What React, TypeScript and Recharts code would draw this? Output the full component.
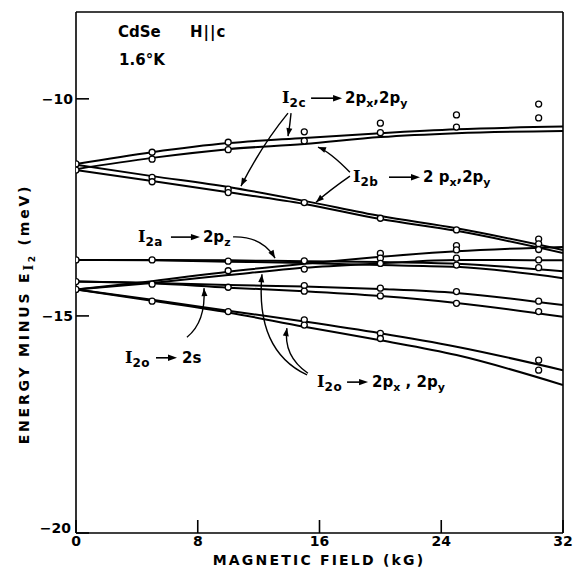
import React from "react";
import { ComposedChart, Line, Scatter, XAxis, YAxis } from "recharts";

// page / plot geometry (plot box matches the reference frame)
const W = 573;
const H = 571;
const PLOT = { left: 76, right: 563, top: 12, bottom: 533 };
const X_DOMAIN: [number, number] = [0, 32];
const Y_DOMAIN: [number, number] = [-20, -8];
const FONT = "'DejaVu Sans', sans-serif";
const SERIF = "'DejaVu Serif', serif";

const xTicks = [0, 8, 16, 24, 32];
const yTicks = [-20, -15, -10];

// fitted curves, read at these fields (kG)
const fieldGrid = [0, 5, 10, 15, 20, 25, 32];
const i2cUp = [-11.5, -11.23, -11.02, -10.9, -10.79, -10.7, -10.64];
const i2bUp = [-11.62, -11.36, -11.16, -11.04, -10.88, -10.79, -10.74];
const i2cDown = [-11.52, -11.78, -12.03, -12.35, -12.7, -12.98, -13.48];
const i2bDown = [-11.64, -11.89, -12.15, -12.42, -12.77, -13.04, -13.55];
const i2oPxUpper = [-14.39, -14.2, -13.98, -13.8, -13.64, -13.51, -13.41];
const i2oPxLower = [-14.39, -14.24, -14.06, -13.89, -13.79, -13.71, -13.72];
const i2aUpper = [-13.71, -13.71, -13.72, -13.74, -13.76, -13.8, -13.97];
const i2aLower = [-13.71, -13.72, -13.75, -13.78, -13.83, -13.87, -14.13];
const i2o2sUpper = [-14.21, -14.24, -14.29, -14.32, -14.38, -14.47, -14.75];
const i2o2sLower = [-14.21, -14.25, -14.35, -14.43, -14.54, -14.7, -15.02];
const i2oPxDown1 = [-14.39, -14.63, -14.88, -15.13, -15.4, -15.71, -16.25];
const i2oPxDown2 = [-14.39, -14.65, -14.92, -15.25, -15.56, -15.9, -16.59];

const curves = [
  i2cUp, i2bUp, i2cDown, i2bDown,
  i2oPxUpper, i2oPxLower, i2aUpper, i2aLower,
  i2o2sUpper, i2o2sLower, i2oPxDown1, i2oPxDown2,
];

// measured points (open circles)
const pointFields = [0, 5, 10, 15, 20, 25, 30.4];
const pts0 = [-11.5, -11.64, -13.71, -14.21, -14.39];
const pts5 = [-11.23, -11.39, -11.81, -11.91, -13.71, -14.27, -14.66];
const pts10 = [-11.0, -11.17, -12.08, -12.16, -13.74, -13.96, -14.34, -14.9];
const pts15 = [-10.76, -10.97, -12.39, -13.73, -13.92, -14.3, -14.43, -15.09, -15.21];
const pts20 = [-10.56, -10.78, -12.75, -13.56, -13.67, -13.79, -14.36, -14.54, -15.4, -15.52];
const pts25 = [-10.37, -10.65, -13.02, -13.38, -13.48, -13.67, -13.83, -14.44, -14.71];
const pts30 = [-10.12, -10.44, -13.23, -13.34, -13.47, -13.71, -13.89, -14.66, -14.9, -16.02, -16.25];
const pointEnergies = [pts0, pts5, pts10, pts15, pts20, pts25, pts30];

const toRows = (ys: number[]) => fieldGrid.map((x, i) => ({ x, y: ys[i] }));
const points = pointFields.flatMap((x, i) => pointEnergies[i].map((y) => ({ x, y })));

// data -> pixel, same box as the chart
const sx = (x: number) =>
  PLOT.left + ((x - X_DOMAIN[0]) / (X_DOMAIN[1] - X_DOMAIN[0])) * (PLOT.right - PLOT.left);
const sy = (y: number) =>
  PLOT.top + ((Y_DOMAIN[1] - y) / (Y_DOMAIN[1] - Y_DOMAIN[0])) * (PLOT.bottom - PLOT.top);

// transition labels: anchor in data coords, inline arrow / text offsets in px
type Part = [string, boolean];
const labels: { at: [number, number]; sub: string; arrow: [number, number]; rest: number; parts: Part[] }[] = [
  { at: [13.54, -10.1], sub: "2c", arrow: [29, 60], rest: 63, parts: [["2p", false], ["x", true], [",2p", false], ["y", true]] },
  { at: [18.2, -11.92], sub: "2b", arrow: [36, 67], rest: 70, parts: [["2 p", false], ["x", true], [",2p", false], ["y", true]] },
  { at: [4.07, -13.3], sub: "2a", arrow: [33, 62], rest: 65, parts: [["2p", false], ["z", true]] },
  { at: [3.22, -16.08], sub: "2o", arrow: [31, 52], rest: 57, parts: [["2s", false]] },
  { at: [15.84, -16.64], sub: "2o", arrow: [30, 51], rest: 55, parts: [["2p", false], ["x", true], [" , 2p", false], ["y", true]] },
];

// pointer arrows (from, control, to) in data coords
const pointers: { from: [number, number]; ctrl: [number, number]; to: [number, number] }[] = [
  { from: [14.13, -10.33], ctrl: [14.06, -10.6], to: [13.93, -10.86] },
  { from: [13.93, -10.33], ctrl: [12.22, -11.06], to: [10.84, -12.01] },
  { from: [18.0, -11.69], ctrl: [16.69, -11.22], to: [15.9, -11.11] },
  { from: [18.0, -11.78], ctrl: [16.69, -12.1], to: [15.77, -12.38] },
  { from: [10.32, -13.18], ctrl: [12.22, -13.16], to: [13.08, -13.67] },
  { from: [7.29, -15.49], ctrl: [8.54, -15.14], to: [8.41, -14.36] },
  { from: [15.18, -16.36], ctrl: [11.76, -15.79], to: [12.22, -14.04] },
  { from: [15.24, -16.32], ctrl: [13.6, -15.92], to: [13.86, -15.28] },
];

function head(x: number, y: number, ang: number, len = 8, half = 3) {
  const bx = x - len * Math.cos(ang);
  const by = y - len * Math.sin(ang);
  const s = Math.sin(ang);
  const c = Math.cos(ang);
  return `${x},${y} ${bx + half * s},${by - half * c} ${bx - half * s},${by + half * c}`;
}

function Pointer({ p }: { p: (typeof pointers)[number] }) {
  const x0 = sx(p.from[0]), y0 = sy(p.from[1]);
  const cx = sx(p.ctrl[0]), cy = sy(p.ctrl[1]);
  const x1 = sx(p.to[0]), y1 = sy(p.to[1]);
  const ang = Math.atan2(y1 - cy, x1 - cx);
  return (
    <g>
      <path d={`M${x0},${y0} Q${cx},${cy} ${x1},${y1}`} fill="none" stroke="#000" strokeWidth={1.4} />
      <polygon points={head(x1, y1, ang)} fill="#000" />
    </g>
  );
}

function TransitionLabel({ l }: { l: (typeof labels)[number] }) {
  const x = sx(l.at[0]);
  const y = sy(l.at[1]);
  let prevSub = false;
  return (
    <g fill="#000" fontFamily={FONT} fontWeight="bold">
      <text x={x} y={y} fontSize={16}>
        <tspan fontFamily={SERIF}>I</tspan>
        <tspan fontSize={12} dy={4} letterSpacing={0.5}>{l.sub}</tspan>
      </text>
      <line x1={x + l.arrow[0]} x2={x + l.arrow[1] - 6} y1={y - 5} y2={y - 5} stroke="#000" strokeWidth={1.6} />
      <polygon points={head(x + l.arrow[1], y - 5, 0, 9, 3.2)} />
      <text x={x + l.rest} y={y} fontSize={15}>
        {l.parts.map(([t, sub], i) => {
          const dy = sub && !prevSub ? 4 : !sub && prevSub ? -4 : 0;
          prevSub = sub;
          return (
            <tspan key={i} dy={dy} fontSize={sub ? 11 : 15}>
              {t}
            </tspan>
          );
        })}
      </text>
    </g>
  );
}

const dotShape = (p: any) => (
  <circle cx={p.cx} cy={p.cy} r={3} fill="#fff" stroke="#000" strokeWidth={1.3} />
);

// y tick: the bottom label sits a little above the corner, clear of the x "0"
const YTick = (p: any) => {
  const v = p.payload.value;
  const lift = v === Y_DOMAIN[0] ? -5 : 0;
  return (
    <text
      x={p.x - (v === Y_DOMAIN[0] ? 2 : 0)}
      y={p.y + lift}
      dy="0.36em"
      textAnchor="end"
      fill="#000"
      fontSize={14}
      fontFamily={FONT}
      fontWeight="bold"
    >
      {`\u2212${Math.abs(v)}`}
    </text>
  );
};

export default function App() {
  const tickStyle = { fill: "#000", fontSize: 14, fontFamily: FONT, fontWeight: "bold" };
  return (
    <div style={{ position: "absolute", left: 0, top: 0, width: W, height: H, background: "#fff" }}>
      <ComposedChart width={W} height={H} margin={{ top: PLOT.top, right: W - PLOT.right, bottom: 0, left: 0 }}>
        <XAxis
          type="number"
          dataKey="x"
          domain={X_DOMAIN}
          ticks={xTicks}
          allowDataOverflow
          height={H - PLOT.bottom}
          tickSize={-13}
          tickMargin={16}
          tick={tickStyle}
          axisLine={{ stroke: "#000", strokeWidth: 1.6 }}
          tickLine={{ stroke: "#000", strokeWidth: 1.6 }}
        />
        <YAxis
          type="number"
          dataKey="y"
          domain={Y_DOMAIN}
          ticks={yTicks}
          allowDataOverflow
          width={PLOT.left}
          tickSize={-13}
          tickMargin={16}
          tick={<YTick />}
          axisLine={{ stroke: "#000", strokeWidth: 1.6 }}
          tickLine={{ stroke: "#000", strokeWidth: 1.6 }}
        />
        {curves.map((c, i) => (
          <Line
            key={i}
            data={toRows(c)}
            dataKey="y"
            type="monotone"
            stroke="#000"
            strokeWidth={2}
            dot={false}
            isAnimationActive={false}
          />
        ))}
        <Scatter data={points} dataKey="y" shape={dotShape} isAnimationActive={false} />
      </ComposedChart>

      <svg
        width={W}
        height={H}
        style={{ position: "absolute", left: 0, top: 0, pointerEvents: "none" }}
      >
        {/* top and right frame */}
        <line x1={PLOT.left} x2={PLOT.right} y1={PLOT.top} y2={PLOT.top} stroke="#000" strokeWidth={1.6} />
        <line x1={PLOT.right} x2={PLOT.right} y1={PLOT.top} y2={PLOT.bottom} stroke="#000" strokeWidth={1.6} />

        <g fontFamily={FONT} fontSize={15} fontWeight="bold" fill="#000">
          <text x={sx(2.76)} y={sy(-8.58)}>CdSe</text>
          <text x={sx(7.49)} y={sy(-8.58)} letterSpacing={1}>H||c</text>
          <text x={sx(2.83)} y={sy(-9.22)}>1.6°K</text>
        </g>

        {labels.map((l, i) => (
          <TransitionLabel key={i} l={l} />
        ))}
        {pointers.map((p, i) => (
          <Pointer key={i} p={p} />
        ))}

        <text x={319} y={565} textAnchor="middle" fontFamily={FONT} fontSize={14} fontWeight="bold" letterSpacing={2.2} fill="#000">
          MAGNETIC FIELD (kG)
        </text>
        <text
          transform="translate(29,314) rotate(-90)"
          textAnchor="middle"
          fontFamily={FONT}
          fontSize={14}
          fontWeight="bold"
          letterSpacing={2.8}
          fill="#000"
        >
          ENERGY MINUS E
          <tspan fontFamily={SERIF} fontSize={12} dy={4}>I</tspan>
          <tspan fontSize={9} dy={2}>2</tspan>
          <tspan dy={-6}> (meV)</tspan>
        </text>
      </svg>
    </div>
  );
}
